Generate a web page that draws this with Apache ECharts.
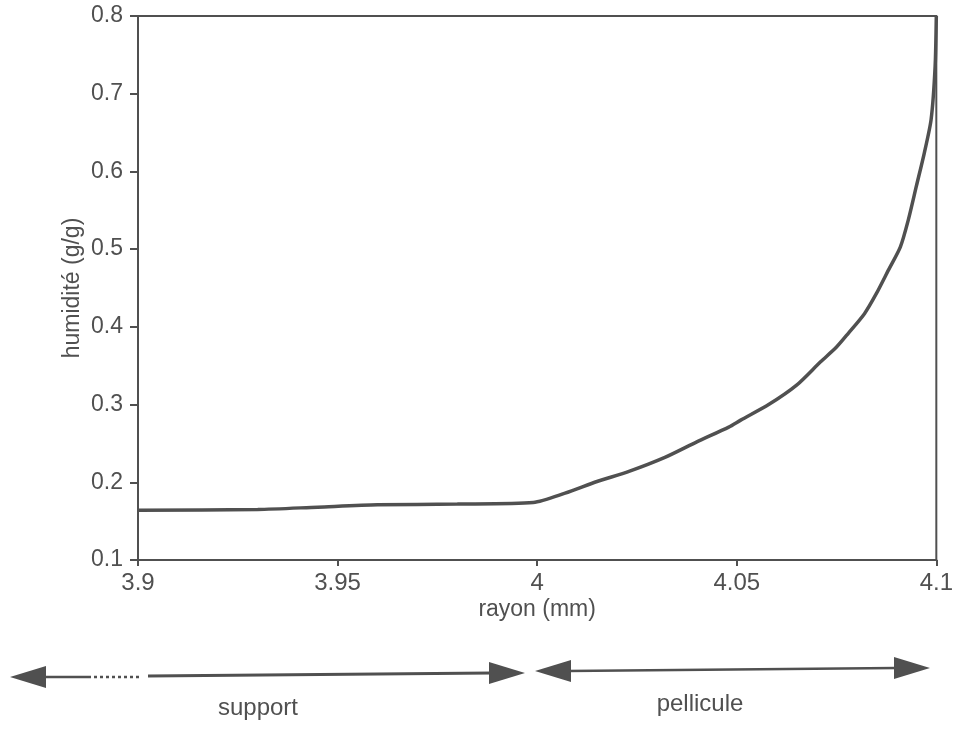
<!DOCTYPE html>
<html>
<head>
<meta charset="utf-8">
<script src="https://cdn.jsdelivr.net/npm/echarts@6/dist/echarts.min.js"></script>
<style>
  html, body { margin: 0; padding: 0; background: #fff; }
  #chart { width: 956px; height: 729px; }
</style>
</head>
<body>
<div id="chart"></div>
<script>
// Moisture profile across the radius (support + coating film)
var rayon = [3.900, 3.930, 3.945, 3.960, 3.980, 3.999, 4.007, 4.015, 4.023, 4.032,
             4.040, 4.048, 4.051, 4.058, 4.065, 4.071, 4.075, 4.078, 4.082, 4.085,
             4.088, 4.091, 4.093, 4.095, 4.097, 4.0987, 4.0997, 4.100];
var humidite = [0.164, 0.165, 0.168, 0.171, 0.172, 0.174, 0.186, 0.201, 0.214, 0.232,
                0.252, 0.271, 0.280, 0.300, 0.325, 0.355, 0.374, 0.392, 0.417, 0.443,
                0.473, 0.503, 0.538, 0.581, 0.624, 0.667, 0.735, 0.800];
var xTicks = [3.9, 3.95, 4, 4.05, 4.1];
var yTicks = [0.1, 0.2, 0.3, 0.4, 0.5, 0.6, 0.7, 0.8];
var zoneLabels = ['support', 'pellicule'];

var ink = '#505050';
var font = 'Liberation Sans, Arial, Helvetica, sans-serif';

var points = rayon.map(function (r, i) { return [r, humidite[i]]; });

var chart = echarts.init(document.getElementById('chart'), null, { renderer: 'canvas' });

function arrowHead(tipX, tipY, dir) {
  // dir = -1 points left, +1 points right
  var len = 36, half = 11;
  return {
    type: 'polygon',
    shape: { points: [[tipX, tipY], [tipX - dir * len, tipY - half], [tipX - dir * len, tipY + half]] },
    style: { fill: ink },
    silent: true
  };
}

chart.setOption({
  animation: false,
  backgroundColor: '#ffffff',
  grid: {
    left: 138, right: 19, top: 16, bottom: 169,
    show: true, borderColor: ink, borderWidth: 2, backgroundColor: 'transparent'
  },
  xAxis: {
    type: 'value',
    min: xTicks[0], max: xTicks[xTicks.length - 1], interval: 0.05,
    name: 'rayon (mm)', nameLocation: 'middle', nameGap: 38,
    nameMoveOverlap: false,
    nameTextStyle: { color: ink, fontSize: 23, fontFamily: font },
    axisLine: { show: true, onZero: false, lineStyle: { color: ink, width: 2 } },
    axisTick: { show: true, length: 6, lineStyle: { color: ink, width: 2 } },
    axisLabel: {
      color: ink, fontSize: 24, fontFamily: font, margin: 11,
      formatter: function (v) { return String(parseFloat(v.toFixed(2))); }
    },
    splitLine: { show: false }
  },
  yAxis: {
    type: 'value',
    min: yTicks[0], max: yTicks[yTicks.length - 1], interval: 0.1,
    name: 'humidité (g/g)', nameLocation: 'middle', nameGap: 54, nameRotate: 90,
    nameMoveOverlap: false,
    nameTextStyle: { color: ink, fontSize: 23, fontFamily: font },
    axisLine: { show: true, onZero: false, lineStyle: { color: ink, width: 2 } },
    axisTick: { show: true, length: 8, lineStyle: { color: ink, width: 2 } },
    axisLabel: {
      color: ink, fontSize: 23, fontFamily: font, margin: 15,
      formatter: function (v) { return v.toFixed(1); }
    },
    splitLine: { show: false }
  },
  series: [{
    type: 'line',
    data: points,
    showSymbol: false,
    smooth: 0.25,
    lineStyle: { color: ink, width: 3.5 },
    clip: false
  }],
  graphic: [
    // support zone: double arrow, dotted where it continues to the left
    arrowHead(10, 677, -1),
    { type: 'line', shape: { x1: 44, y1: 677, x2: 88, y2: 677 }, style: { stroke: ink, lineWidth: 2.5 }, silent: true },
    { type: 'line', shape: { x1: 88, y1: 677, x2: 142, y2: 677 }, style: { stroke: ink, lineWidth: 2.5, lineDash: [3, 3] }, silent: true },
    { type: 'line', shape: { x1: 148, y1: 676, x2: 492, y2: 673 }, style: { stroke: ink, lineWidth: 3 }, silent: true },
    arrowHead(525, 673, 1),
    { type: 'text', x: 258, y: 708, style: { text: zoneLabels[0], fill: ink, fontSize: 24, fontFamily: font, textAlign: 'center', textVerticalAlign: 'middle' }, silent: true },
    // film zone
    arrowHead(535, 671, -1),
    { type: 'line', shape: { x1: 568, y1: 671, x2: 896, y2: 668 }, style: { stroke: ink, lineWidth: 2.5 }, silent: true },
    arrowHead(930, 668, 1),
    { type: 'text', x: 700, y: 704, style: { text: zoneLabels[1], fill: ink, fontSize: 24, fontFamily: font, textAlign: 'center', textVerticalAlign: 'middle' }, silent: true }
  ]
});
</script>
</body>
</html>
